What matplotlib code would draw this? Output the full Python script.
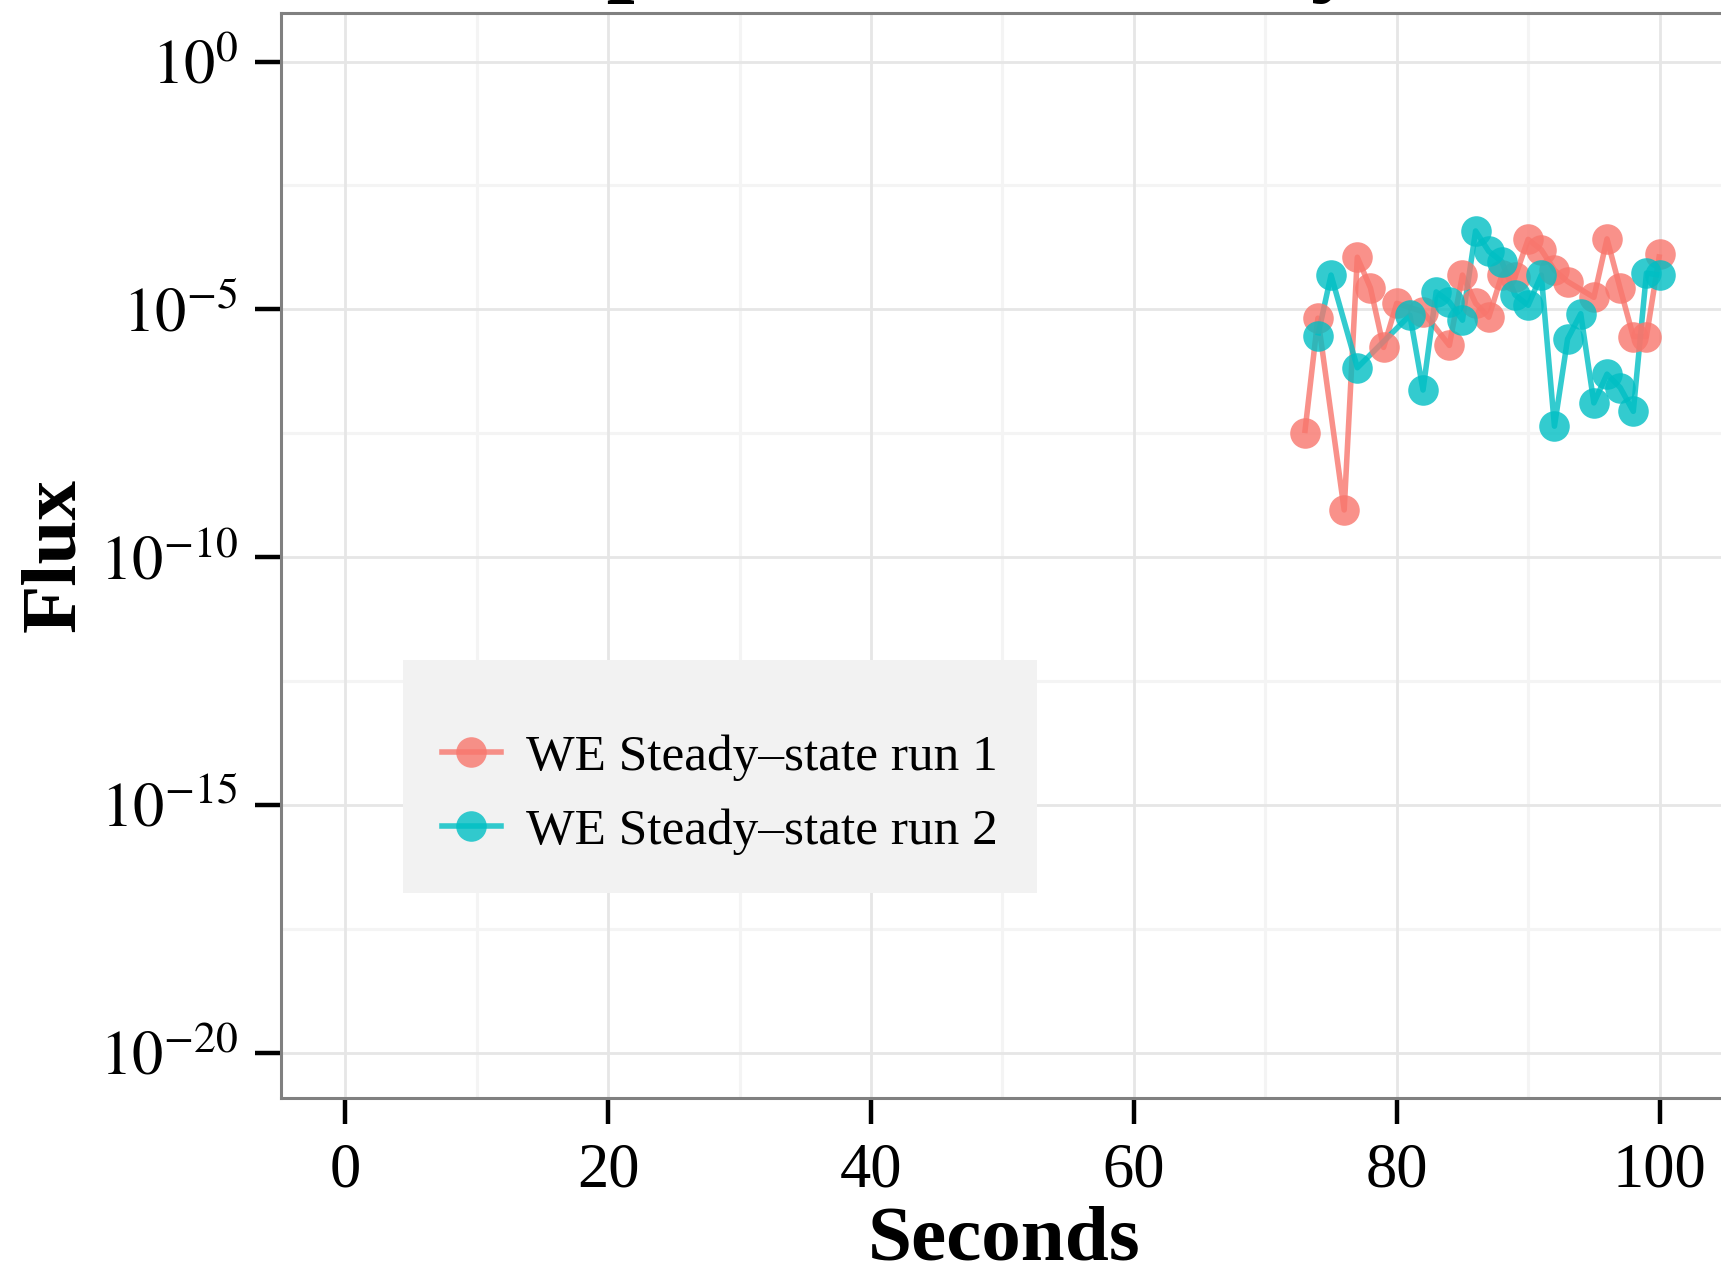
"""
Steady-state flux from two weighted-ensemble runs, log scale.
"""

import numpy as np
import matplotlib.pyplot as plt
from matplotlib.lines import Line2D
from matplotlib.ticker import FixedLocator, FixedFormatter

plt.rcParams['font.family'] = ['Liberation Serif', 'DejaVu Serif']
plt.rcParams['mathtext.fontset'] = 'stix'

# ── data (log10 of flux) ───────────────────────────────────────
run1_sec = [73, 74, 76, 77, 78, 79, 80, 82, 84, 85, 86, 87, 88, 89,
            90, 91, 92, 93, 95, 96, 97, 98, 99, 100]
run1_logflux = [-7.50, -5.18, -9.05, -3.95, -4.57, -5.77, -4.88, -5.05,
                -5.73, -4.31, -4.88, -5.16, -4.31, -4.35, -3.59, -3.80,
                -4.21, -4.44, -4.76, -3.58, -4.58, -5.55, -5.55, -3.89]

run2_sec = [74, 75, 77, 81, 82, 83, 84, 85, 86, 87, 88, 89, 90, 91,
            92, 93, 94, 95, 96, 97, 98, 99, 100]
run2_logflux = [-5.53, -4.31, -6.18, -5.12, -6.63, -4.65, -4.85, -5.22,
                -3.42, -3.83, -4.04, -4.71, -4.92, -4.31, -7.36, -5.60,
                -5.09, -6.89, -6.31, -6.58, -7.06, -4.27, -4.31]

series_names = ["WE Steady\u2013state run 1", "WE Steady\u2013state run 2"]
series_colors = ['#F8766D', '#00BFC4']

x_ticks = [0, 20, 40, 60, 80, 100]
x_minor = [10, 30, 50, 70, 90]
y_exps = [0, -5, -10, -15, -20]
y_minor_exps = [-2.5, -7.5, -12.5, -17.5]

# ── figure ─────────────────────────────────────────────────────
W, H = 1721, 1272
fig = plt.figure(figsize=(W / 100, H / 100), dpi=100)
left, right, top, bottom = 281, 1726.6, 13.2, 1097.6
ax = fig.add_axes([left / W, 1 - bottom / H, (right - left) / W, (bottom - top) / H])

ax.set_yscale('log')
ax.set_xlim(-4.9, 105.1)
ax.set_ylim(10 ** -20.91, 10 ** 0.975)

# grid
for e in y_minor_exps:
    ax.axhline(10 ** e, color='#F4F4F4', lw=2.2, zorder=0)
for v in x_minor:
    ax.axvline(v, color='#F4F4F4', lw=2.2, zorder=0)
for e in y_exps:
    ax.axhline(10 ** e, color='#E6E6E6', lw=2.0, zorder=0.5)
for v in x_ticks:
    ax.axvline(v, color='#E6E6E6', lw=2.0, zorder=0.5)

# lines first, points on top (like stacked layers)
all_x = [run1_sec, run2_sec]
all_y = [run1_logflux, run2_logflux]
LW, MS = 4.0, 22
for xs, ys, c in zip(all_x, all_y, series_colors):
    ax.plot(xs, 10 ** np.array(ys), color=c, lw=LW, alpha=0.8,
            solid_capstyle='butt', zorder=2)
for xs, ys, c in zip(all_x, all_y, series_colors):
    ax.plot(xs, 10 ** np.array(ys), linestyle='none', marker='o', ms=MS,
            mfc=c, mec='none', alpha=0.8, zorder=3)

# ticks
ax.yaxis.set_major_locator(FixedLocator([10.0 ** e for e in y_exps]))
ax.yaxis.set_major_formatter(FixedFormatter([r'$10^{%d}$' % e for e in y_exps]))
ax.yaxis.set_minor_locator(FixedLocator([]))
ax.xaxis.set_major_locator(FixedLocator(x_ticks))
ax.xaxis.set_major_formatter(FixedFormatter([str(v) for v in x_ticks]))
ax.tick_params(axis='both', which='major', direction='out', length=19,
               width=3.2, color='black', labelsize=45, labelcolor='black')
ax.tick_params(axis='y', pad=12)
ax.tick_params(axis='x', pad=13)

for sp in ax.spines.values():
    sp.set_color('#808080')
    sp.set_linewidth(2.2)

ax.set_xlabel("Seconds", fontsize=57, fontweight='bold', labelpad=4)
ax.set_ylabel("Flux", fontsize=57, fontweight='bold', labelpad=6)

# legend (blank title leaves the empty band at the top)
handles = [Line2D([], [], color=c, lw=LW, alpha=0.8, marker='o', ms=MS,
                  mec='none') for c in series_colors]
leg = ax.legend(handles, series_names, loc='upper left',
                bbox_to_anchor=((403 - left) / (right - left), (bottom - 660) / (bottom - top)),
                fontsize=37, frameon=True, fancybox=False, framealpha=1,
                title=' ', title_fontsize=8,
                handlelength=1.15, handletextpad=0.5, labelspacing=0.52,
                borderpad=0.75, borderaxespad=0)
leg.get_frame().set_facecolor('#F2F2F2')
leg.get_frame().set_edgecolor('none')

# title sits mostly above the canvas
fig.text(398 / W, 1 + 18 / H, "Comparison of Steady-state Flux",
         fontsize=73, fontweight='bold', ha='left', va='baseline')

fig.savefig("out.png", dpi=100)
